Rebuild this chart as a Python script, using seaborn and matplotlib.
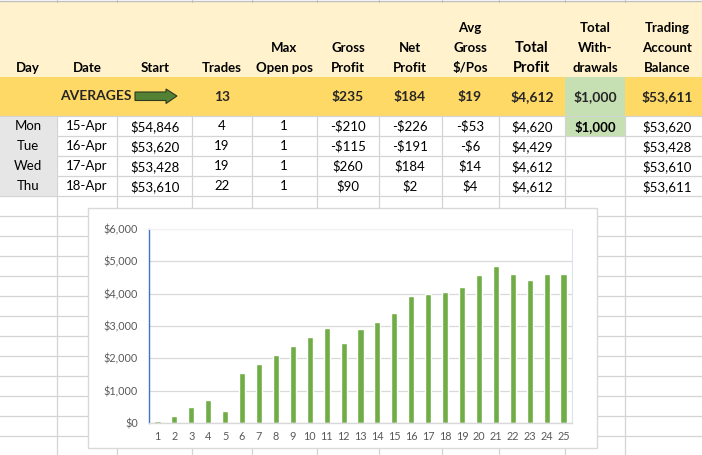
import matplotlib
matplotlib.use("Agg")
import matplotlib.pyplot as plt
import seaborn as sns
import pandas as pd
from matplotlib.patches import Rectangle, Polygon
from matplotlib.ticker import FuncFormatter

# ---------------- data ----------------
header_lines = [["Day"], ["Date"], ["Start"], ["Trades"], ["Max", "Open pos"],
                ["Gross", "Profit"], ["Net", "Profit"], ["Avg", "Gross", "$/Pos"],
                ["Total", "Profit"], ["Total", "With-", "drawals"],
                ["Trading", "Account", "Balance"]]
averages_label = "AVERAGES"
averages_values = ["", "", "", "13", "", "$235", "$184", "$19", "$4,612", "$1,000", "$53,611"]

days = ["Mon", "Tue", "Wed", "Thu"]
dates = ["15-Apr", "16-Apr", "17-Apr", "18-Apr"]
starts = ["$54,846", "$53,620", "$53,428", "$53,610"]
trades = ["4", "19", "19", "22"]
max_open = ["1", "1", "1", "1"]
gross_profit = ["-$210", "-$115", "$260", "$90"]
net_profit = ["-$226", "-$191", "$184", "$2"]
avg_gross = ["-$53", "-$6", "$14", "$4"]
total_profit_col = ["$4,620", "$4,429", "$4,612", "$4,612"]
withdrawals = ["$1,000", "", "", ""]
balances = ["$53,620", "$53,428", "$53,610", "$53,611"]

chart_days = [str(d) for d in range(1, 26)]
chart_profit = [55, 210, 490, 710, 360, 1540, 1820, 2100, 2380, 2660, 2940, 2470,
                2910, 3130, 3400, 3930, 3990, 4050, 4210, 4590, 4846, 4620, 4429,
                4612, 4612]

# ---------------- style ----------------
sns.set_style("white")
plt.rcParams["font.family"] = ["Lato", "DejaVu Sans"]
plt.rcParams["text.parse_math"] = False

W, H = 702, 455
fig = plt.figure(figsize=(W / 100, H / 100), dpi=100)
bg = fig.add_axes([0, 0, 1, 1])
bg.set_xlim(0, W)
bg.set_ylim(H, 0)
bg.axis("off")

col_edges = [0, 57, 117, 192, 252, 317, 379, 442, 499, 565, 625, 702]
col_centers = [28, 87, 155, 222, 284, 348, 410, 470, 532, 595, 667]
grid_c = "#d4d4d4"

# bands
bg.add_patch(Rectangle((0, 1), W, 76, fc="#FFF2CC", ec="none", zorder=1))
bg.add_patch(Rectangle((0, 77), W, 39, fc="#FFD966", ec="none", zorder=1))
bg.plot([0, W], [0.5, 0.5], color="#bfbfbf", lw=1, zorder=2)
for x in col_edges[1:-1]:
    bg.plot([x, x], [0, 2], color="#bfbfbf", lw=0.8, zorder=2)

# grid lines
for y in range(116, H + 1, 20):
    bg.plot([0, W], [y, y], color=grid_c, lw=0.9, zorder=2)
for x in col_edges[1:-1]:
    bg.plot([x, x], [116, H], color=grid_c, lw=0.9, zorder=2)

# special fills
bg.add_patch(Rectangle((565, 77), 60, 39, fc="#C6E0B4", ec="none", zorder=3))
bg.add_patch(Rectangle((565.5, 116.6), 59, 19, fc="#C6E0B4", ec="none", zorder=3))
bg.add_patch(Rectangle((0, 116.6), 57, 79, fc="#E7E6E6", ec="none", zorder=3))

fs = 9.5
# header text
for ci, lines in enumerate(header_lines):
    for k, line in enumerate(reversed(lines)):
        size = 10.5 if ci == 8 else fs
        bg.text(col_centers[ci], 68 - 20 * k, line, ha="center", va="center",
                fontsize=size, fontweight="bold", color="black", zorder=4)

# averages row
bg.text(60, 96, averages_label, ha="left", va="center", fontsize=fs + 0.5,
        fontweight="bold", zorder=4)
arrow = Polygon([(135, 92), (166, 92), (166, 89), (177, 96), (166, 103.5),
                 (166, 100.5), (135, 100.5)], closed=True, fc="#548235",
                ec="#2d3a1f", lw=0.8, zorder=4)
bg.add_patch(arrow)
for ci, v in enumerate(averages_values):
    if v:
        bg.text(col_centers[ci], 97, v, ha="center", va="center",
                fontsize=fs + 0.5, fontweight="bold", zorder=4)

# data rows
columns = [days, dates, starts, trades, max_open, gross_profit, net_profit,
           avg_gross, total_profit_col, withdrawals, balances]
for ci, col in enumerate(columns):
    for ri, v in enumerate(col):
        if v:
            bg.text(col_centers[ci], 126.5 + 20 * ri, v, ha="center", va="center",
                    fontsize=fs, fontweight="bold" if ci == 9 else "normal",
                    color="black", zorder=4)

# chart box
bg.add_patch(Rectangle((88, 208), 509, 240, fc="white", ec="#d9d9d9", lw=1, zorder=5))

# ---------------- chart ----------------
ax = fig.add_axes([149 / W, (H - 423) / H, (572 - 149) / W, (423 - 229) / H])
ax.set_zorder(6)
df = pd.DataFrame({"day": chart_days, "profit": chart_profit})
sns.barplot(data=df, x="day", y="profit", color="#70AD47", saturation=1,
            width=0.36, ax=ax)
ax.set_xlim(-0.5, len(chart_days) - 0.5)
ax.set_ylim(0, 6000)
ax.set_yticks(range(0, 6001, 1000))
ax.yaxis.set_major_formatter(FuncFormatter(lambda v, p: f"${int(v):,}"))
ax.set_xlabel("")
ax.set_ylabel("")
ax.yaxis.grid(True, color="#d9d9d9", lw=0.9)
ax.set_axisbelow(True)
ax.tick_params(axis="both", length=0, labelsize=7.8, colors="#595959")
ax.tick_params(axis="y", pad=8)
ax.tick_params(axis="x", pad=6)
ax.spines["left"].set_color("#4472C4")
ax.spines["left"].set_linewidth(1.0)
ax.spines["bottom"].set_color("#d9d9d9")
ax.spines["bottom"].set_linewidth(1.0)
ax.spines["top"].set_color("#f2f2f2")
ax.spines["right"].set_color("#dde3ee")
for s in ["top", "right"]:
    ax.spines[s].set_linewidth(0.8)
ax.set_facecolor("white")

fig.savefig("out.png", dpi=100)
